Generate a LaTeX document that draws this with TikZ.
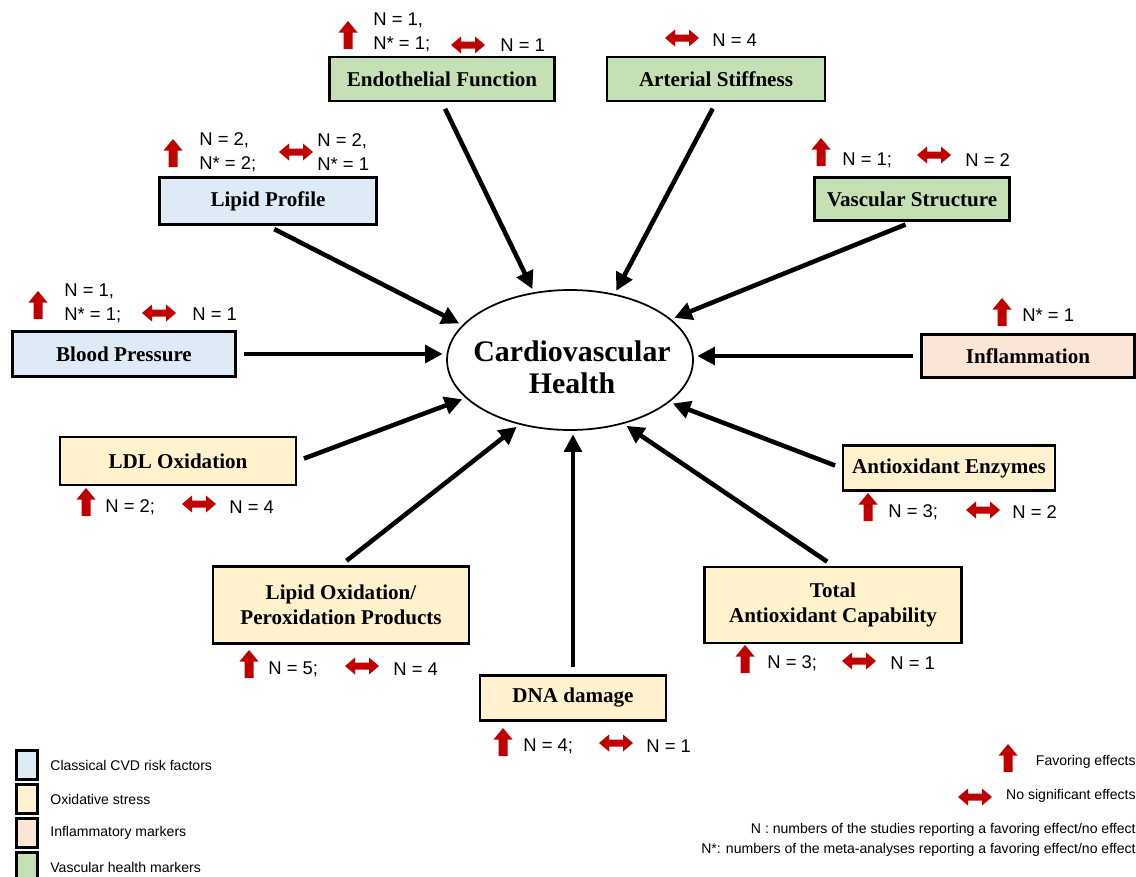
\documentclass[tikz,border=0pt]{standalone}
\usepackage{fontspec}
\setmainfont{Liberation Serif}
\setsansfont{Liberation Sans}
\usetikzlibrary{arrows.meta, shapes.geometric}
\definecolor{riskblue}{HTML}{DEEBF7}
\definecolor{oxyellow}{HTML}{FFF2CC}
\definecolor{inflpink}{HTML}{FBE5D6}
\definecolor{vascgreen}{HTML}{C5E0B4}
\definecolor{effred}{HTML}{C00000}

\begin{document}
\begin{tikzpicture}[
    x=0.02cm, y=-0.02cm,
    box/.style={rectangle, draw=black, line width=1.6pt, align=center, minimum height=0.9cm, font=\fontsize{12}{14.5}\selectfont\bfseries},
    riskbox/.style={box, fill=riskblue},
    oxbox/.style={box, fill=oxyellow},
    inflbox/.style={box, fill=inflpink},
    vascbox/.style={box, fill=vascgreen},
    count/.style={anchor=west, align=left, inner sep=0pt, font=\sffamily\fontsize{10.5}{13.6}\selectfont},
    legend/.style={inner sep=0pt, font=\sffamily\fontsize{8}{9.5}\selectfont},
    key/.style={rectangle, draw=black, line width=1.7pt, minimum width=0.42cm, minimum height=0.58cm},
    arrow/.style={-{Triangle[length=10pt, width=10pt]}, line width=2.6pt, shorten <=4pt, shorten >=2pt},
    favor/.pic={\fill[effred] (-4.5,14) -- (4.5,14) -- (4.5,-2.5) -- (9.5,-2.5) -- (0,-14) -- (-9.5,-2.5) -- (-4.5,-2.5) -- cycle;},
    nosig/.pic={\fill[effred] (-17,0) -- (-7,-8.5) -- (-7,-3.5) -- (7,-3.5) -- (7,-8.5) -- (17,0) -- (7,8.5) -- (7,3.5) -- (-7,3.5) -- (-7,8.5) -- cycle;}
]
    \useasboundingbox (0,0) rectangle (1136,876);

    % Centre
    \node[ellipse, draw, line width=1pt, minimum width=4.92cm, minimum height=2.8cm] (cvh) at (570,360) {};
    \node[align=center, font=\fontsize{17}{18}\selectfont\bfseries] (cvhtext) at (572,367) {Cardiovascular\\Health};

    % Boxes
    \node[vascbox, minimum width=4.5cm, minimum height=0.88cm] (endo) at (442,79) {Endothelial Function};
    \node[vascbox, minimum width=4.36cm, minimum height=0.88cm] (art) at (716,79) {Arterial Stiffness};
    \node[riskbox, minimum width=4.34cm, minimum height=0.94cm] (lipid) at (268,201) {Lipid Profile};
    \node[vascbox, minimum width=3.9cm, minimum height=0.86cm] (vasc) at (912,199) {Vascular Structure};
    \node[riskbox, minimum width=4.46cm] (bp) at (124,354) {Blood Pressure};
    \node[inflbox, minimum width=4.26cm, minimum height=0.86cm] (infl) at (1028,356) {Inflammation};
    \node[oxbox, minimum width=4.72cm, minimum height=0.96cm] (ldl) at (178,461) {LDL Oxidation};
    \node[oxbox, minimum width=4.24cm] (ae) at (949,468) {Antioxidant Enzymes};
    \node[oxbox, minimum width=5.12cm, minimum height=1.54cm] (lipox) at (341,605) {Lipid Oxidation/\\Peroxidation Products};
    \node[oxbox, minimum width=5.14cm, minimum height=1.52cm] (tac) at (833,605) {Total\\Antioxidant Capability};
    \node[oxbox, minimum width=3.72cm] (dna) at (573,698) {DNA damage};

    % Arrows to centre
    \draw[arrow] (endo.south) -- (cvh.118);
    \draw[arrow] (art.south) -- (cvh.56);
    \draw[arrow] (lipid.south) -- (cvh.162);
    \draw[arrow] (vasc.south) -- (cvh.22);
    \draw[arrow] (bp.east) -- (bp.east -| cvh.west);
    \draw[arrow] (infl.west) -- (infl.west -| cvh.east);
    \draw[arrow] (ldl.east) -- (cvh.200);
    \draw[arrow] (ae.west) -- (cvh.337);
    \draw[arrow] (lipox.north) -- (cvh.232);
    \draw[arrow] (tac.north) -- (cvh.310);
    \draw[arrow] (dna.north) -- (dna.north |- cvh.south);

    % Study counts
    \pic at (348,35) {favor};
    \node[count] (endoup) at (373,32) {N = 1,\\N* = 1;};
    \pic at (468,45) {nosig};
    \node[count] (endons) at (500,45) {N = 1};

    \pic at (682,38) {nosig};
    \node[count] (artns) at (712,40) {N = 4};

    \pic at (173,153) {favor};
    \node[count] (lipidup) at (199,152) {N = 2,\\N* = 2;};
    \pic at (296,152) {nosig};
    \node[count] (lipidns) at (317,152) {N = 2,\\N* = 1};

    \pic at (821,152) {favor};
    \node[count] (vascup) at (842,160) {N = 1;};
    \pic at (934,155) {nosig};
    \node[count] (vascns) at (965,160) {N = 2};

    \pic at (38,305) {favor};
    \node[count] (bpup) at (64,303) {N = 1,\\N* = 1;};
    \pic at (159,313) {nosig};
    \node[count] (bpns) at (192,314) {N = 1};

    \pic at (1002,312) {favor};
    \node[count] (influp) at (1022,315) {N* = 1};

    \pic at (86,502) {favor};
    \node[count] (ldlup) at (105,507) {N = 2;};
    \pic at (199,504) {nosig};
    \node[count] (ldlns) at (229,507) {N = 4};

    \pic at (868,507) {favor};
    \node[count] (aeup) at (888,512) {N = 3;};
    \pic at (983,510) {nosig};
    \node[count] (aens) at (1012,512) {N = 2};

    \pic at (249,664) {favor};
    \node[count] (lipoxup) at (268,669) {N = 5;};
    \pic at (362,666) {nosig};
    \node[count] (lipoxns) at (393,669) {N = 4};

    \pic at (745,659) {favor};
    \node[count] (tacup) at (767,663) {N = 3;};
    \pic at (859,661) {nosig};
    \node[count] (tacns) at (890,663) {N = 1};

    \pic at (503,742) {favor};
    \node[count] (dnaup) at (523,746) {N = 4;};
    \pic at (616,743) {nosig};
    \node[count] (dnans) at (646,746) {N = 1};

    % Legend, left
    \node[key, fill=riskblue] (k1) at (27,765) {};
    \node[key, fill=oxyellow] (k2) at (27,799) {};
    \node[key, fill=inflpink] (k3) at (27,833) {};
    \node[key, fill=vascgreen] (k4) at (27,867) {};
    \node[legend, anchor=west] (t1) at (50,765) {Classical CVD risk factors};
    \node[legend, anchor=west] (t2) at (50,799) {Oxidative stress};
    \node[legend, anchor=west] (t3) at (50,833) {Inflammatory markers};
    \node[legend, anchor=west] (t4) at (50,867) {Vascular health markers};

    % Legend, right
    \pic at (1008,758) {favor};
    \node[legend, anchor=east] (t5) at (1136,762) {Favoring effects};
    \pic at (975,797) {nosig};
    \node[legend, anchor=east] (t6) at (1136,796) {No significant effects};
    \node[legend, anchor=east] (t7) at (1136,830) {N : numbers of the studies reporting a favoring effect/no effect};
    \node[legend, anchor=east] (t8) at (1136,850) {N*: numbers of the meta-analyses reporting a favoring effect/no effect};
\end{tikzpicture}
\end{document}
